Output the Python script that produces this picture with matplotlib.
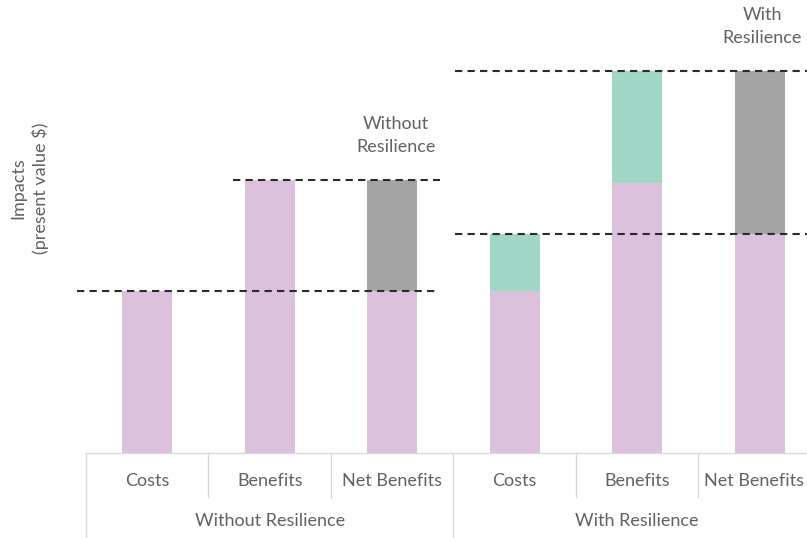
import matplotlib
matplotlib.use("Agg")
from matplotlib import pyplot as plt
from matplotlib import transforms as mtrans

plt.rcParams['font.family'] = ['Lato', 'DejaVu Sans']

categories = ["Costs", "Benefits", "Net Benefits", "Costs", "Benefits", "Net Benefits"]
groups = ["Without Resilience", "With Resilience"]

# stacked segments (arbitrary present-value units)
base_vals = [3.0, 5.05, 3.0, 3.0, 5.0, 4.05]        # pink
resil_vals = [0.0, 0.0, 0.0, 1.05, 2.07, 0.0]       # teal
net_vals = [0.0, 0.0, 2.05, 0.0, 0.0, 3.02]         # gray

PINK = "#dcc1dc"
TEAL = "#a0d7c6"
GRAY = "#a4a4a4"
TXT = "#626262"
FS = 13

fig = plt.figure(figsize=(8.07, 5.38), dpi=100)
ax = fig.add_axes([86 / 807, 85 / 538, 721 / 807, 453 / 538])

x = list(range(len(categories)))
w = 0.41
ax.bar(x, base_vals, width=w, color=PINK, zorder=2)
bott = [b for b in base_vals]
ax.bar(x, resil_vals, width=w, bottom=bott, color=TEAL, zorder=2)
bott2 = [b + r for b, r in zip(base_vals, resil_vals)]
ax.bar(x, net_vals, width=w, bottom=bott2, color=GRAY, zorder=2)

ax.set_xlim(-0.5, 5.386)
ax.set_ylim(0, 8.39)
for s in ax.spines.values():
    s.set_visible(False)
ax.set_xticks([])
ax.set_yticks([])

# dashed reference lines
dash = dict(color="#2b2b2b", linestyle=(0, (3.5, 2.5)), linewidth=1.5, zorder=3, clip_on=False)
ax.plot([-0.573, 2.357], [base_vals[0]] * 2, **dash)
ax.plot([0.70, 2.39], [base_vals[1]] * 2, **dash)
ax.plot([2.51, 5.5], [bott2[3]] * 2, **dash)
ax.plot([2.51, 5.5], [bott2[4]] * 2, **dash)

ax.text(2.03, base_vals[1] + 0.47, "Without\nResilience", ha="center", va="bottom",
        fontsize=FS, color=TXT, linespacing=1.5)
ax.text(5.02, bott2[4] + 0.47, "With\nResilience", ha="center", va="bottom",
        fontsize=FS, color=TXT, linespacing=1.5)

# category table beneath the axis
tr = mtrans.blended_transform_factory(ax.transData, ax.transAxes)
line = dict(color="#d9d9d9", linewidth=1.0, transform=tr, clip_on=False)
ax.plot([-0.5, 5.5], [0, 0], **line)
for i in range(len(categories) + 1):
    xb = i - 0.5
    if i % 3 == 0:
        ax.plot([xb, xb], [0, -0.2], **line)
    else:
        ax.plot([xb, xb], [0, -0.098], **line)
for i, c in enumerate(categories):
    xi = i if i < len(categories) - 1 else i - 0.045   # keep last label inside the figure
    ax.text(xi, -0.062, c, transform=tr, ha="center", va="center", fontsize=FS, color=TXT)
for g, gi in enumerate(groups):
    ax.text(g * 3 + 1, -0.15, gi, transform=tr, ha="center", va="center", fontsize=FS, color=TXT)

fig.text(30 / 807, 1 - 188 / 538, "Impacts\n(present value $)", rotation=90, ha="center",
         va="center", fontsize=FS, color=TXT, linespacing=1.35)

fig.savefig("out.png", dpi=100)
